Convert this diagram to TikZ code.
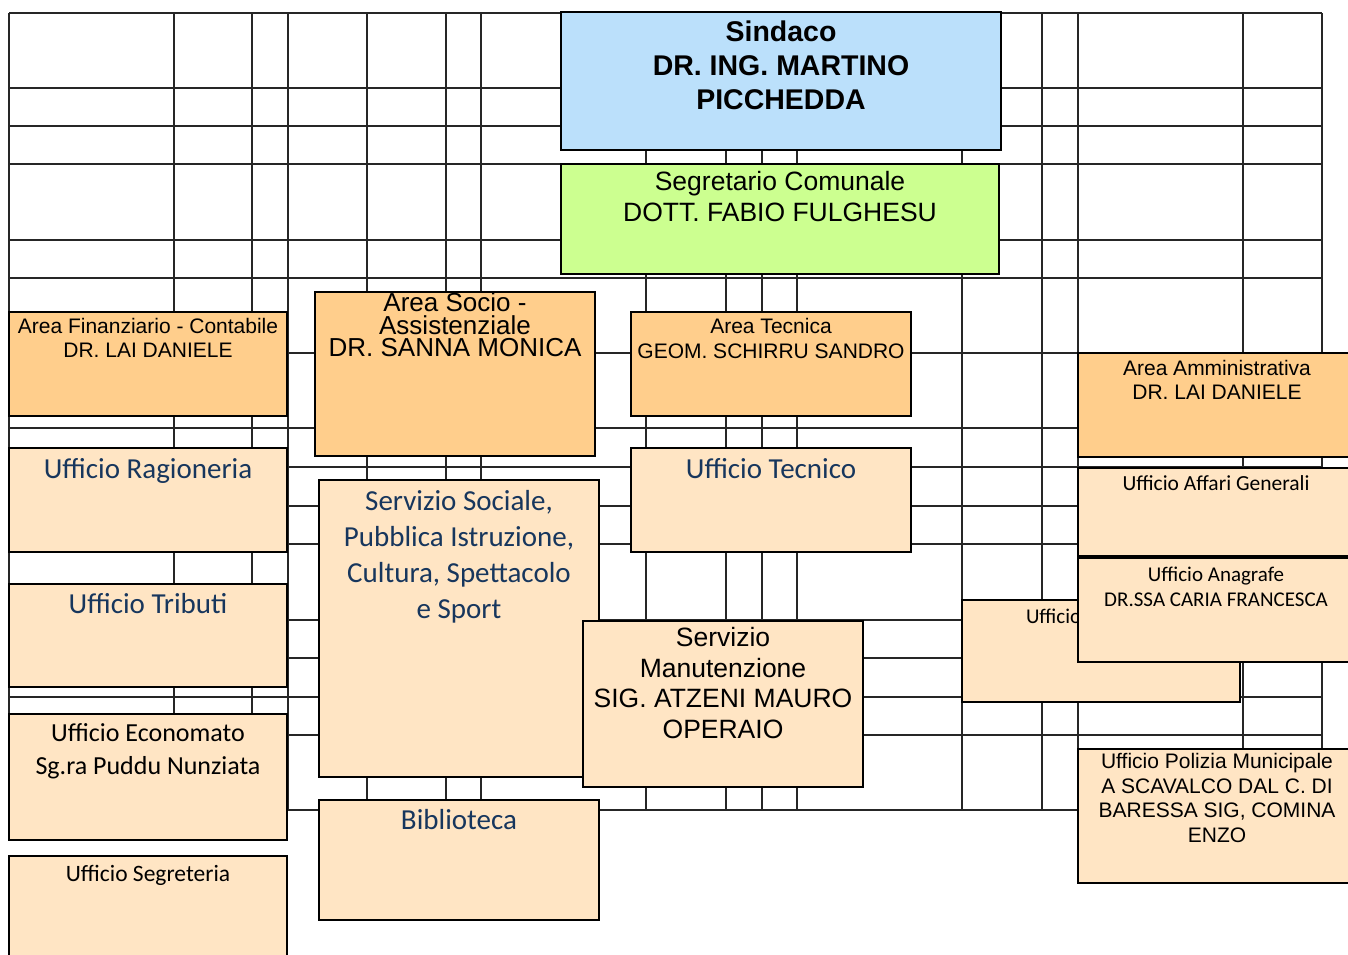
\documentclass[tikz,border=0pt]{standalone}
\usepackage{fontspec}
\setmainfont{Liberation Sans}
\newfontfamily\carl{Carlito}
\definecolor{sindacoblue}{RGB}{187,224,251}
\definecolor{segrgreen}{RGB}{204,255,144}
\definecolor{areaorange}{RGB}{255,206,140}
\definecolor{officecream}{RGB}{255,229,196}
\definecolor{navytext}{RGB}{23,54,93}
\newcommand\myfs[2]{\fontsize{#1}{#2}\selectfont\lineskiplimit=-1000pt\lineskip=0pt\relax}
\newcommand\myst{\rule{0pt}{1em}}
\begin{document}
\begin{tikzpicture}[x=1pt,y=-1pt,
  gridline/.style={line width=1.2pt,draw=black!85},
  box/.style={draw=black,line width=1.6pt,rectangle,inner sep=0pt,outer sep=0pt,anchor=north west},
  sindacobox/.style={box,fill=sindacoblue},
  segrbox/.style={box,fill=segrgreen},
  areabox/.style={box,fill=areaorange},
  officebox/.style={box,fill=officecream},
  lbl/.style={anchor=north,align=center,inner sep=0pt,outer sep=0pt,text=black},
  navylbl/.style={lbl,text=navytext}]
\useasboundingbox (0,0) rectangle (1348,954);
\clip (0,0) rectangle (1348,954);
\fill[white] (0,0) rectangle (1348,954);
% background grid
\foreach \gx in {9,174,252,288,367,446,481,646,726,762,797,962,1042,1078,1243,1322}
  \draw[gridline] (\gx,13) -- (\gx,810);
\foreach \gy in {13,88,126,164,240,278,353,428,467,506,544,620,658,697,735,810}
  \draw[gridline] (9,\gy) -- (1322,\gy);

% Sindaco
\node[sindacobox,minimum width=440,minimum height=138] (sindaco) at (561,12) {};
\node[lbl,font={\myfs{28.5}{34}\bfseries}] (sindacoT) at (781,12.5) {\myst Sindaco\\DR. ING. MARTINO\\PICCHEDDA};
% Segretario
\node[segrbox,minimum width=438,minimum height=110] (segr) at (561,164) {};
\node[lbl,font={\myfs{26.5}{31}}] (segrT) at (780,163.5) {\myst Segretario Comunale\\DOTT. FABIO FULGHESU};

% Area boxes
\node[areabox,minimum width=278,minimum height=104] (afin) at (9,312) {};
\node[lbl,font={\myfs{21}{24.4}}] (afinT) at (148,312.3) {\myst Area Finanziario - Contabile\\DR. LAI DANIELE};
\node[areabox,minimum width=280,minimum height=164] (asoc) at (315,292) {};
\node[lbl,font={\myfs{26}{22.5}}] (asocT) at (455,285.7) {\myst Area Socio -\\Assistenziale\\DR. SANNA MONICA};
\node[areabox,minimum width=280,minimum height=104] (atec) at (631,312) {};
\node[lbl,font={\myfs{21}{25}}] (atecT) at (771,312.3) {\myst Area Tecnica\\GEOM. SCHIRRU SANDRO};
\node[areabox,minimum width=274,minimum height=104] (aamm) at (1078,353) {};
\node[lbl,font={\myfs{21}{24}}] (aammT) at (1217,354) {\myst Area Amministrativa\\DR. LAI DANIELE};

% left column
\node[officebox,minimum width=278,minimum height=104] (ragio) at (9,448) {};
\node[navylbl,font={\carl\myfs{29}{36}}] (ragioT) at (148,449.3) {\myst Ufficio Ragioneria};
\node[officebox,minimum width=278,minimum height=103] (tribu) at (9,584) {};
\node[navylbl,font={\carl\myfs{29}{36}}] (tribuT) at (148,584.3) {\myst Ufficio Tributi};
\node[officebox,minimum width=278,minimum height=126] (econ) at (9,714) {};
\node[lbl,font={\carl\myfs{26}{32.3}}] (econT) at (148,715.7) {\myst Ufficio Economato\\Sg.ra Puddu Nunziata};
\node[officebox,minimum width=278,minimum height=110] (segret) at (9,856) {};
\node[lbl,font={\carl\myfs{23.5}{28}}] (segretT) at (148,857.5) {\myst Ufficio Segreteria};

% middle column
\node[officebox,minimum width=280,minimum height=297] (ssoc) at (319,480) {};
\node[navylbl,font={\carl\myfs{29}{36}}] (ssocT) at (459,481) {\myst Servizio Sociale,\\Pubblica Istruzione,\\Cultura, Spettacolo\\e Sport};
\node[officebox,minimum width=280,minimum height=120] (bibl) at (319,800) {};
\node[navylbl,font={\carl\myfs{29}{36}}] (biblT) at (459,800.3) {\myst Biblioteca};
\node[officebox,minimum width=280,minimum height=104] (utec) at (631,448) {};
\node[navylbl,font={\carl\myfs{29}{36}}] (utecT) at (771,449.3) {\myst Ufficio Tecnico};
\node[officebox,minimum width=280,minimum height=166] (manut) at (583,621) {};
\node[lbl,font={\myfs{26.5}{30.6}}] (manutT) at (723,620.2) {\myst Servizio\\Manutenzione\\SIG. ATZENI MAURO\\OPERAIO};

% right column
\node[officebox,minimum width=278,minimum height=102] (uffx) at (962,600) {};
\node[lbl,anchor=north west,font={\carl\myfs{21}{25}}] (uffxT) at (1026,602.3) {\myst Ufficio};
\node[officebox,minimum width=274,minimum height=88] (affgen) at (1078,468) {};
\node[lbl,font={\carl\myfs{21.5}{25}}] (affgenT) at (1216,468.5) {\myst Ufficio Affari Generali};
\node[officebox,minimum width=274,minimum height=104] (anag) at (1078,558) {};
\node[lbl,font={\carl\myfs{21}{25}}] (anagT) at (1216,560.7) {\myst Ufficio Anagrafe\\DR.SSA CARIA FRANCESCA};
\node[officebox,minimum width=274,minimum height=134] (poliz) at (1078,749) {};
\node[lbl,font={\myfs{21}{24.8}}] (polizT) at (1217,747.3) {\myst Ufficio Polizia Municipale\\A SCAVALCO DAL C. DI\\BARESSA SIG, COMINA\\ENZO};
\end{tikzpicture}
\end{document}
